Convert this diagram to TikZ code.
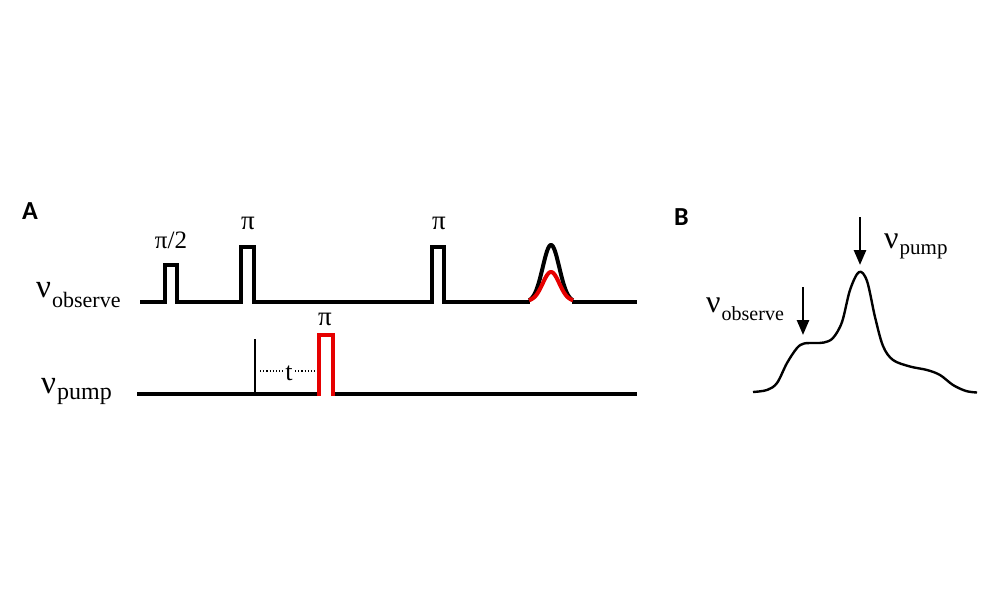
\documentclass[tikz,border=0pt]{standalone}
\usepackage{fontspec}
\setmainfont{Liberation Serif}
\newfontfamily\labfont{Carlito}
\usetikzlibrary{arrows.meta}
\definecolor{pred}{RGB}{230,0,0}
\tikzset{
  seqline/.style={line width=4pt, line join=miter, line cap=butt},
  thinline/.style={line width=1.6pt},
  dotline/.style={line width=1.2pt, dotted},
  specline/.style={line width=2.4pt, line join=round},
  downarrow/.style={line width=2.6pt, -{Triangle[width=12pt,length=15pt]}},
  bigtxt/.style={inner sep=0pt, anchor=base west},
  pitxt/.style={inner sep=0pt, anchor=base, font=\fontsize{27}{30}\selectfont},
  panel/.style={inner sep=0pt, anchor=base west, font=\labfont\bfseries\fontsize{26}{30}\selectfont}
}
\newcommand{\nulab}[4]{{\fontsize{#1}{#1}\selectfont ν\hspace{1pt}\raisebox{-#4pt}{\fontsize{#2}{#2}\selectfont #3}}}
\begin{document}
\begin{tikzpicture}[x=1pt,y=-1pt]
\useasboundingbox (0,0) rectangle (1000,600);
% panel labels
\node[panel] (labA) at (22,219) {A};
\node[panel] (labB) at (674,225) {B};
% observe channel
\node[bigtxt] (obslab) at (36,297) {\nulab{33}{22}{observe}{10}};
\draw[seqline] (140,302) -- (165,302) -- (165,265) -- (177,265) -- (177,302)
  -- (241,302) -- (241,247) -- (254,247) -- (254,302)
  -- (432,302) -- (432,247) -- (444,247) -- (444,302) -- (530,302);
\draw[seqline] (572,302) -- (637,302);
\draw[line width=4pt, domain=529:573, samples=60, smooth] plot (\x,{302-57*exp(-((\x-551)/8.3)^2/2)});
\draw[line width=4pt, pred, domain=529:573, samples=60, smooth] plot (\x,{301-29*exp(-((\x-551)/8.3)^2/2)});
\node[pitxt, font=\fontsize{25}{28}\selectfont] (p1) at (171,248) {π/2};
\node[pitxt] (p2) at (248,229) {π};
\node[pitxt] (p3) at (439,229) {π};
% pump channel
\node[bigtxt] (pumplab) at (41,393) {\nulab{33}{24}{pump}{6}};
\draw[seqline] (137,394) -- (318.5,394);
\draw[seqline] (332.5,394) -- (637,394);
\draw[seqline, pred] (318.5,396) -- (318.5,335) -- (332.5,335) -- (332.5,396);
\node[pitxt] (p4) at (325,325) {π};
\draw[thinline] (255,339) -- (255,392);
\node[pitxt, font=\fontsize{26}{28}\selectfont] (tlab) at (289,380) {t};
\coordinate (d1) at (260,371);
\coordinate (d2) at (283,371);
\coordinate (d3) at (295,371);
\coordinate (d4) at (316,371);
\draw[dotline] (d1) -- (d2);
\draw[dotline] (d3) -- (d4);
% spectrum
\draw[specline] plot[smooth, tension=0.55] coordinates {
 (753,392) (767,390) (777,383) (787,363) (797,348) (804,343.5) (815,343) (824,342.5)
 (833,338) (842,322) (850,290) (859,272) (867,281) (875,317) (883,346) (893,360)
 (910,366.5) (927,370) (940,375) (953,385) (966,391) (977,392.5)};
\coordinate (pa1) at (860,217);
\coordinate (pa2) at (860,265);
\coordinate (oa1) at (803,287);
\coordinate (oa2) at (803,335);
\draw[downarrow] (pa1) -- (pa2);
\draw[downarrow] (oa1) -- (oa2);
\node[bigtxt] (bpump) at (884,248) {\nulab{32}{21}{pump}{6}};
\node[bigtxt] (bobs) at (706,312) {\nulab{32}{20}{observe}{8}};
\end{tikzpicture}
\end{document}
